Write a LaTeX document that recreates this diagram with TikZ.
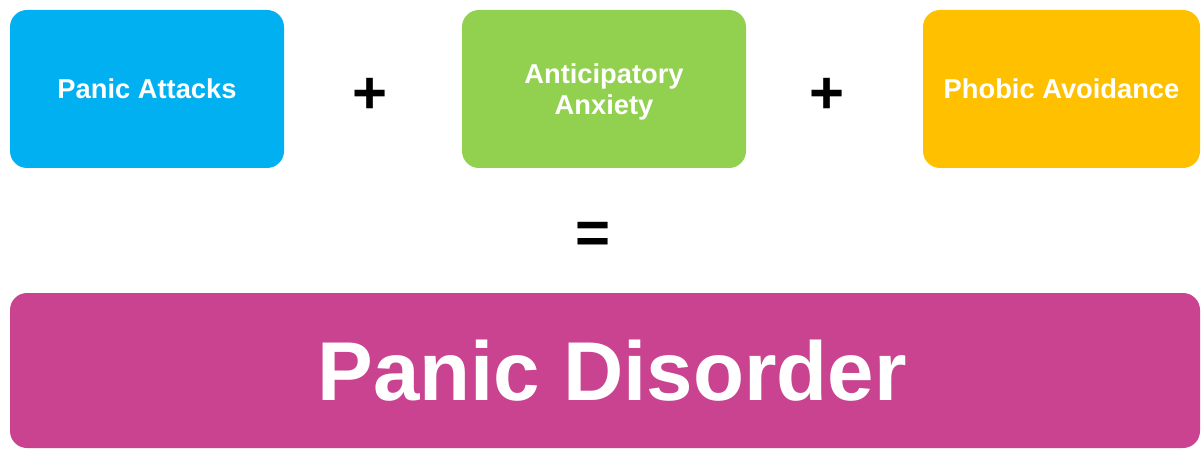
\documentclass[tikz,border=0pt]{standalone}
\usepackage{fontspec}
\setmainfont{Liberation Sans}
\usepackage{tikz}
\usetikzlibrary{positioning,calc}

\definecolor{attackblue}{HTML}{00B0F0}
\definecolor{anxietygreen}{HTML}{92D050}
\definecolor{avoidyellow}{HTML}{FFC000}
\definecolor{disordermag}{HTML}{C94391}

\begin{document}
\begin{tikzpicture}[x=1pt, y=-1pt,
	termbox/.style={rounded corners=17pt, inner sep=0pt, text=white, align=center,
		font=\bfseries\fontsize{27.3}{31}\selectfont},
	opsign/.style={inner sep=0pt, font=\bfseries\fontsize{60}{60}\selectfont}]
	\useasboundingbox (0,0) rectangle (1201,449);
	% Les trois termes
	\node[termbox, fill=attackblue, minimum width=274pt, minimum height=158pt] (attacks) at (147, 89) {Panic Attacks};
	\node[termbox, fill=anxietygreen, minimum width=284pt, minimum height=158pt] (anticip) at (604, 89) {};
	\node[text=white, align=center, font=\bfseries\fontsize{27.3}{31}\selectfont] (anticiptxt) at (604, 92) {Anticipatory\\Anxiety};
	\node[termbox, fill=avoidyellow, minimum width=277pt, minimum height=158pt] (avoid) at (1061.5, 89) {Phobic Avoidance};
	
	% Signes
	\node[opsign] (plusA) at (370, 96) {+};
	\node[opsign] (plusB) at (827, 96) {+};
	\node[opsign] (equal) at (593, 238) {=};
	
	% Résultat
	\node[termbox, fill=disordermag, minimum width=1190pt, minimum height=155pt] (disorder) at (605, 370.5) {};
	\node[text=white, font=\bfseries\fontsize{83.5}{90}\selectfont] (disordertxt) at (612, 371) {Panic Disorder};
\end{tikzpicture}
\end{document}
